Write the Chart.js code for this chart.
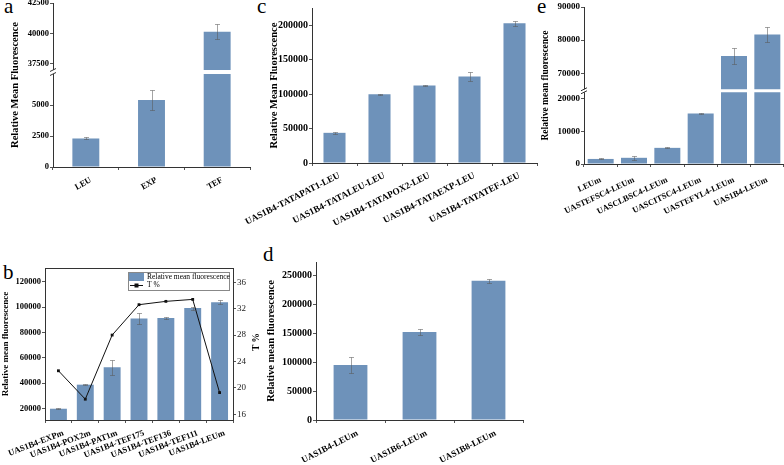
<!DOCTYPE html>
<html><head><meta charset="utf-8">
<script src="https://cdn.jsdelivr.net/npm/chart.js@4/dist/chart.umd.min.js"></script>
<style>
html,body{margin:0;padding:0;background:#fff;}
body{width:784px;height:465px;position:relative;overflow:hidden;}
canvas{position:absolute;}
.plab{position:absolute;font-family:"Liberation Serif","Times New Roman",serif;font-size:21px;line-height:1;color:#000;}
</style></head><body>
<span class="plab" style="left:4px;top:-4px">a</span>
<span class="plab" style="left:3px;top:262px">b</span>
<span class="plab" style="left:257px;top:-4px">c</span>
<span class="plab" style="left:263px;top:244px">d</span>
<span class="plab" style="left:537px;top:-4px">e</span>
<script>
// ---------------- DATA ----------------
const catsA = ['LEU', 'EXP', 'TEF'];
const valsA = [2300, 5400, 40150];
const errA = [80, 830, 620];
const ticksA = [0, 2500, 5000, 37500, 40000, 42500];

const catsB = ['UAS1B4-EXPm', 'UAS1B4-POX2m', 'UAS1B4-PAT1m', 'UAS1B4-TEF175', 'UAS1B4-TEF136', 'UAS1B4-TEF111', 'UAS1B4-LEUm'];
const valsB = [19700, 38700, 52500, 91000, 91300, 99200, 103800];
const errB = [300, 400, 5800, 4500, 600, 1200, 1500];
const tPctB = [22.6, 18.3, 28.0, 32.6, 33.1, 33.4, 19.3];
const ticksBLeft = [20000, 40000, 60000, 80000, 100000, 120000];
const ticksBRight = [16, 20, 24, 28, 32, 36];

const catsC = ['UAS1B4-TATAPAT1-LEU', 'UAS1B4-TATALEU-LEU', 'UAS1B4-TATAPOX2-LEU', 'UAS1B4-TATAEXP-LEU', 'UAS1B4-TATATEF-LEU'];
const valsC = [43800, 99900, 112400, 125400, 203000];
const errC = [1200, 600, 700, 6000, 3500];
const ticksC = [0, 50000, 100000, 150000, 200000];

const catsD = ['UAS1B4-LEUm', 'UAS1B6-LEUm', 'UAS1B8-LEUm'];
const valsD = [95300, 152800, 241500];
const errD = [13500, 5800, 3800];
const ticksD = [0, 50000, 100000, 150000, 200000, 250000];

const catsE = ['LEUm', 'UASTEFSC4-LEUm', 'UASCLBSC4-LEUm', 'UASCITSC4-LEUm', 'UASTEFYL4-LEUm', 'UAS1B4-LEUm'];
const valsE = [1550, 1900, 4950, 15450, 75200, 81700];
const errE = [150, 700, 150, 250, 2500, 2250];
const ticksE = [0, 10000, 20000, 70000, 80000, 90000];

// ---------------- STYLE ----------------
const BAR = 'rgb(110,146,186)';
const FAM = '"Liberation Serif", "Times New Roman", serif';
Chart.defaults.font.family = FAM;
Chart.defaults.color = '#000';
const bold = s => ({family: FAM, size: s, weight: 'bold'});
const reg = s => ({family: FAM, size: s, weight: 'normal'});

// Broken linear axis: two linear segments separated by a small gap
class BrokenScale extends Chart.LinearScale {
  _geo() {
    const o = this.options, h = this.bottom - this.top;
    const lowH = h * o.lowFrac, gap = o.gapPx, upH = h - lowH - gap;
    return {o, lowH, gap, upH};
  }
  getPixelForValue(v) {
    const {o, lowH, gap, upH} = this._geo();
    if (v <= o.breakLow) return this.bottom - (v - this.min) / (o.breakLow - this.min) * lowH;
    if (v >= o.breakHigh) return this.top + (this.max - v) / (this.max - o.breakHigh) * upH;
    return this.bottom - lowH - (v - o.breakLow) / (o.breakHigh - o.breakLow) * gap;
  }
  getValueForPixel(p) {
    const {o, lowH, gap, upH} = this._geo();
    const yl = this.bottom - lowH, yh = this.top + upH;
    if (p >= yl) return this.min + (this.bottom - p) / lowH * (o.breakLow - this.min);
    if (p <= yh) return this.max - (p - this.top) / upH * (this.max - o.breakHigh);
    return o.breakLow + (yl - p) / gap * (o.breakHigh - o.breakLow);
  }
}
BrokenScale.id = 'broken';
BrokenScale.defaults = {};
Chart.register(BrokenScale);

const fixTicks = vals => s => { s.ticks = vals.map(v => ({value: v})); };

const errPlugin = {
  id: 'errbars',
  afterDatasetsDraw(chart) {
    const ctx = chart.ctx, a = chart.chartArea;
    chart.data.datasets.forEach((ds, di) => {
      if (!ds.errors) return;
      const meta = chart.getDatasetMeta(di);
      const ys = chart.scales[meta.yAxisID];
      ctx.save();
      ctx.beginPath(); ctx.rect(a.left, a.top - 3, a.right - a.left, a.bottom - a.top + 3); ctx.clip();
      ctx.strokeStyle = 'rgba(90,90,90,0.55)'; ctx.lineWidth = 1;
      meta.data.forEach((el, i) => {
        const v = ds.data[i], e = ds.errors[i];
        const x = Math.round(el.x) + 0.5;
        const y1 = Math.round(ys.getPixelForValue(v + e)) + 0.5, y2 = Math.round(ys.getPixelForValue(v - e)) + 0.5;
        ctx.beginPath();
        ctx.moveTo(x, y1); ctx.lineTo(x, y2);
        ctx.moveTo(x - 2.5, y1); ctx.lineTo(x + 2.5, y1);
        ctx.moveTo(x - 2.5, y2); ctx.lineTo(x + 2.5, y2);
        ctx.stroke();
      });
      ctx.restore();
    });
  }
};

const breakPlugin = {
  id: 'axisbreak',
  afterDatasetsDraw(chart) {
    const s = chart.scales.y;
    if (!s || s.type !== 'broken') return;
    const a = chart.chartArea, ctx = chart.ctx, o = s.options;
    const yl = s.getPixelForValue(o.breakLow), yh = s.getPixelForValue(o.breakHigh);
    ctx.save();
    ctx.fillStyle = '#fff';
    ctx.fillRect(a.left + 1, yh, a.right - a.left, yl - yh);
    ctx.fillRect(a.left - 3, yh, 5, yl - yh);
    ctx.strokeStyle = '#333'; ctx.lineWidth = 1;
    ctx.beginPath();
    [yh, yl].forEach(y => { ctx.moveTo(a.left - 3, y + 1.5); ctx.lineTo(a.left + 3, y - 1.5); });
    ctx.stroke();
    ctx.restore();
  }
};

const framePlugin = {
  id: 'frameTop',
  afterDraw(chart) {
    const a = chart.chartArea, ctx = chart.ctx;
    ctx.save(); ctx.strokeStyle = '#333'; ctx.lineWidth = 1;
    ctx.beginPath(); ctx.moveTo(a.left, a.top + 0.5); ctx.lineTo(a.right, a.top + 0.5); ctx.stroke();
    ctx.restore();
  }
};

// right-axis title, reading bottom-to-top like the left one
const rightTitlePlugin = {
  id: 'rightTitle',
  afterDraw(chart) {
    const s = chart.scales.y1, ctx = chart.ctx;
    ctx.save();
    ctx.translate(s.right - 8, (s.top + s.bottom) / 2 - 2);
    ctx.rotate(-Math.PI / 2);
    ctx.font = 'bold 9.5px ' + FAM; ctx.fillStyle = '#000';
    ctx.textAlign = 'center'; ctx.textBaseline = 'middle';
    ctx.fillText(s.options.titleText, 0, 0);
    ctx.restore();
  }
};

const legendBPlugin = {
  id: 'legendB',
  afterDraw(chart) {
    const a = chart.chartArea, ctx = chart.ctx, ds = chart.data.datasets;
    const x0 = a.right - 105, y0 = a.top + 4, w = 101, h = 18;
    ctx.save();
    ctx.strokeStyle = '#888'; ctx.lineWidth = 1;
    ctx.strokeRect(Math.round(x0) + 0.5, Math.round(y0) + 0.5, w, h);
    ctx.fillStyle = BAR; ctx.fillRect(x0 + 1, y0 + 1, 15, 8);
    ctx.fillStyle = '#000'; ctx.font = '7.5px ' + FAM; ctx.textBaseline = 'middle'; ctx.textAlign = 'left';
    ctx.fillText(ds[0].label, x0 + 19, y0 + 5.5);
    const ly = Math.round(y0 + 13) + 0.5;
    ctx.strokeStyle = '#111'; ctx.beginPath(); ctx.moveTo(x0 + 2, ly); ctx.lineTo(x0 + 15, ly); ctx.stroke();
    ctx.fillStyle = '#111'; ctx.fillRect(x0 + 6.5, ly - 2, 4, 4);
    ctx.fillStyle = '#000'; ctx.fillText(ds[1].label, x0 + 19, ly);
    ctx.restore();
  }
};

function xAxis(rot, fs, hgt, pad, off) {
  return {
    type: 'category', offset: true,
    grid: {display: true, drawOnChartArea: false, offset: true, tickLength: 3, color: '#555', lineWidth: 1},
    border: {display: true, color: '#333', width: 1},
    ticks: {autoSkip: false, minRotation: rot, maxRotation: rot, font: bold(fs), padding: pad, labelOffset: off, color: '#000'},
    afterFit: s => { s.height = hgt; s.paddingLeft = 0; s.paddingRight = 0; s.paddingTop = 0; s.paddingBottom = 0; }
  };
}
function yAxis(o) {
  const ax = {
    type: o.type || 'linear', position: o.position || 'left', min: o.min, max: o.max, bounds: 'data',
    grid: {display: true, drawOnChartArea: false, tickLength: 3, color: '#555', lineWidth: 1},
    border: {display: true, color: '#333', width: 1},
    ticks: {autoSkip: false, font: o.tickFont, padding: 1, color: o.tickColor || '#000', callback: v => String(v)},
    title: {display: !o.noTitle, text: o.title, font: o.titleFont, color: '#000', padding: {top: o.titlePad, bottom: 0}},
    afterBuildTicks: fixTicks(o.ticks),
    afterFit: s => { s.width = o.width; s.paddingTop = 0; s.paddingBottom = 0; s.paddingLeft = 0; s.paddingRight = 0; }
  };
  if (o.extra) Object.assign(ax, o.extra);
  return ax;
}

function panel(box, area, data, scales, plugins) {
  const cv = document.createElement('canvas');
  cv.width = box.w; cv.height = box.h;
  cv.style.left = box.l + 'px'; cv.style.top = box.t + 'px';
  document.body.appendChild(cv);
  return new Chart(cv, {
    type: 'bar',
    data: data,
    options: {
      responsive: false, devicePixelRatio: 1, animation: false,
      layout: {autoPadding: false, padding: {left: 0, top: area.t - box.t, right: area.padR, bottom: 0}},
      plugins: {legend: {display: false}, tooltip: {enabled: false}},
      scales: scales
    },
    plugins: plugins
  });
}

// ---------------- Panel a ----------------
panel({l: 0, t: 0, w: 262, h: 232}, {t: 3, padR: 12},
  {labels: catsA, datasets: [{label: 'Relative Mean Fluorescence', data: valsA, errors: errA, backgroundColor: BAR,
    borderWidth: 0, categoryPercentage: 1, barPercentage: 0.41}]},
  {x: xAxis(30, 8.5, 65, 5, 5),
   y: yAxis({type: 'broken', min: 0, max: 42500, ticks: ticksA, width: 53, tickFont: bold(8.5),
     title: 'Relative Mean Fluorescence', titleFont: bold(10.5), titlePad: 8.7,
     extra: {breakLow: 7500, breakHigh: 37000, lowFrac: 0.567, gapPx: 4}})},
  [breakPlugin, errPlugin]);

// ---------------- Panel b ----------------
panel({l: 0, t: 240, w: 265, h: 225}, {t: 268, padR: 0},
  {labels: catsB, datasets: [
    {type: 'bar', label: 'Relative mean fluorescence', data: valsB, errors: errB, backgroundColor: BAR,
     borderWidth: 0, categoryPercentage: 1, barPercentage: 0.63, yAxisID: 'y', order: 2},
    {type: 'line', label: 'T %', data: tPctB, yAxisID: 'y1', borderColor: '#111', backgroundColor: '#111',
     borderWidth: 1, tension: 0, pointStyle: 'rect', pointRadius: 2, pointBorderWidth: 0, order: 1}]},
  {x: xAxis(21, 8.6, 45, 5, 5),
   y: yAxis({min: 10800, max: 130800, ticks: ticksBLeft, width: 45, tickFont: bold(8.5),
     title: 'Relative mean fluorescence', titleFont: bold(9), titlePad: 0.6}),
   y1: yAxis({position: 'right', min: 15.15, max: 38.15, ticks: ticksBRight, width: 32, tickFont: reg(9), tickColor: '#222',
     title: 'T %', noTitle: true, titleFont: bold(9.5), titlePad: 2.6, extra: {titleText: 'T %'}})},
  [errPlugin, framePlugin, legendBPlugin, rightTitlePlugin]);

// ---------------- Panel c ----------------
panel({l: 205, t: 0, w: 334, h: 245}, {t: 8, padR: 2},
  {labels: catsC, datasets: [{label: 'Relative Mean Fluorescence', data: valsC, errors: errC, backgroundColor: BAR,
    borderWidth: 0, categoryPercentage: 1, barPercentage: 0.49}]},
  {x: xAxis(27, 9.3, 82, 4, 5),
   y: yAxis({min: 0, max: 225000, ticks: ticksC, width: 107, tickFont: bold(10),
     title: 'Relative Mean Fluorescence', titleFont: bold(10.5), titlePad: 62.7})},
  [errPlugin]);

// ---------------- Panel d ----------------
panel({l: 262, t: 240, w: 270, h: 225}, {t: 262, padR: 9},
  {labels: catsD, datasets: [{label: 'Relative mean fluorescence', data: valsD, errors: errD, backgroundColor: BAR,
    borderWidth: 0, categoryPercentage: 1, barPercentage: 0.49}]},
  {x: xAxis(27, 9, 45, 5, 7),
   y: yAxis({min: 0, max: 274000, ticks: ticksD, width: 54, tickFont: bold(10),
     title: 'Relative mean fluorescence', titleFont: bold(10.5), titlePad: 3.4})},
  [errPlugin]);

// ---------------- Panel e ----------------
panel({l: 530, t: 0, w: 254, h: 232}, {t: 7, padR: 0},
  {labels: catsE, datasets: [{label: 'Relative mean fluorescence', data: valsE, errors: errE, backgroundColor: BAR,
    borderWidth: 0, categoryPercentage: 1, barPercentage: 0.78}]},
  {x: xAxis(25, 8.5, 68, 8, 0),
   y: yAxis({type: 'broken', min: 0, max: 90000, ticks: ticksE, width: 54, tickFont: bold(9),
     title: 'Relative mean fluorescence', titleFont: bold(9.5), titlePad: 10.3,
     extra: {breakLow: 22000, breakHigh: 65200, lowFrac: 0.457, gapPx: 3}})},
  [breakPlugin, errPlugin]);
</script>
</body></html>
